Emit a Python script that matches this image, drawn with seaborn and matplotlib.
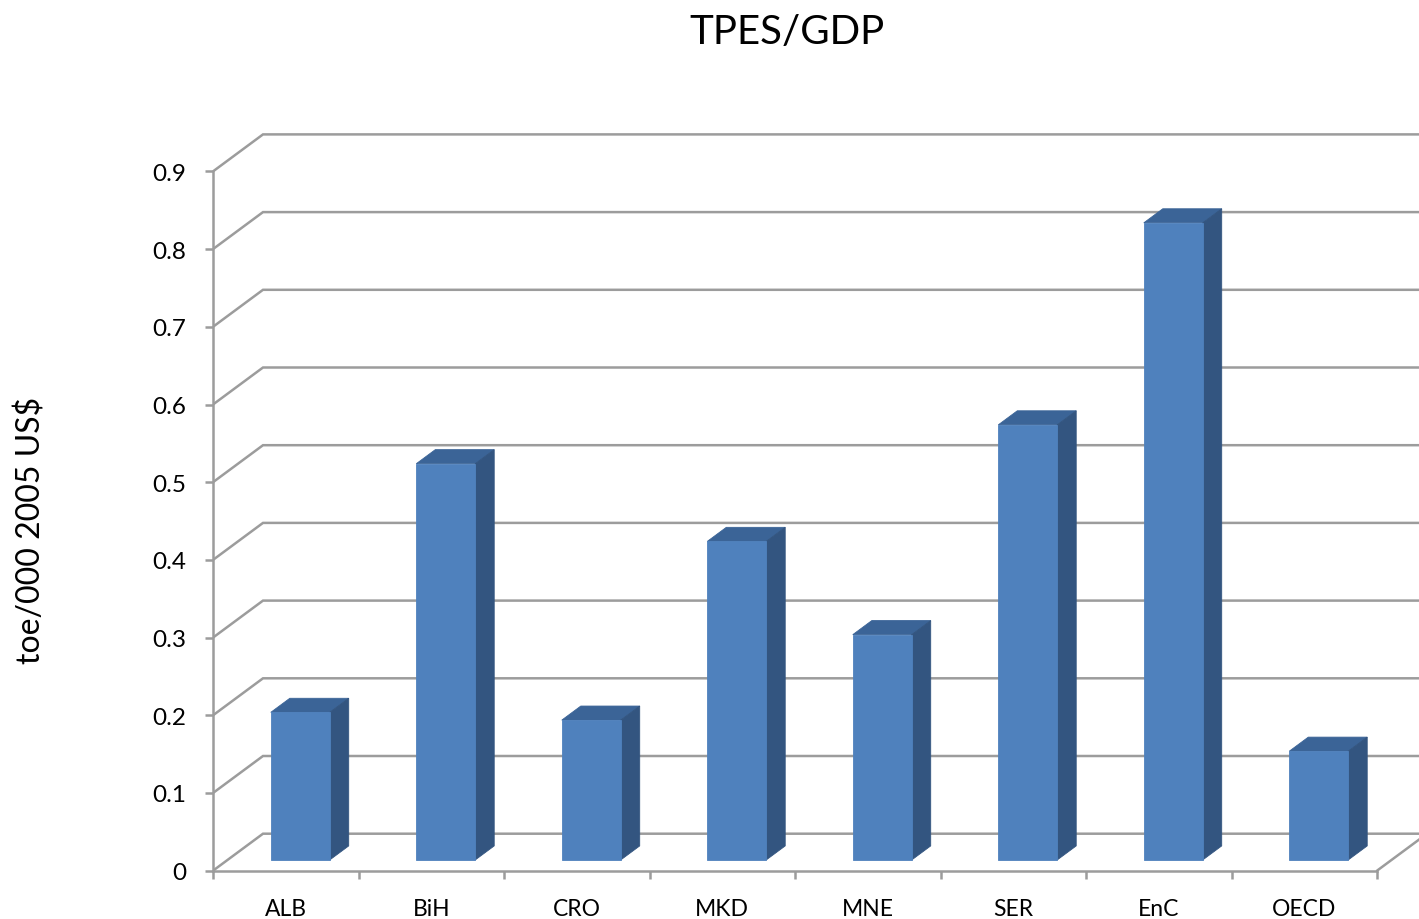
import numpy as np
import pandas as pd
import matplotlib
matplotlib.use("Agg")
import matplotlib.pyplot as plt
import seaborn as sns
from matplotlib.patches import Polygon

# ---------------- data ----------------
categories = ["ALB", "BiH", "CRO", "MKD", "MNE", "SER", "EnC", "OECD"]
values = [0.19, 0.51, 0.18, 0.41, 0.29, 0.56, 0.82, 0.14]
y_ticks = [0, 0.1, 0.2, 0.3, 0.4, 0.5, 0.6, 0.7, 0.8, 0.9]
y_tick_labels = ["0", "0.1", "0.2", "0.3", "0.4", "0.5", "0.6", "0.7", "0.8", "0.9"]
title = "TPES/GDP"
y_label = "toe/000 2005 US$"

# ---------------- style ----------------
FRONT = "#4F81BD"
SIDE = "#335580"
TOP = "#3B6497"
GRID = "#9C9C9C"
GLW = 1.8

sns.set_theme(style="white")
plt.rcParams['font.family'] = ['Lato', 'DejaVu Sans']

W, H = 1419, 920
fig = plt.figure(figsize=(W / 100, H / 100), dpi=100)
cat_px = 145.5
unit_px = 777.0
ax = fig.add_axes([213 / W, 48.3 / H, (W - 213) / W, unit_px / H])

df = pd.DataFrame({"cat": categories, "val": values})
sns.barplot(data=df, x="cat", y="val", color=FRONT, saturation=1, width=0.405,
            ax=ax, zorder=3, linewidth=0)

xmax = -0.5 + (W - 213) / cat_px
ax.set_xlim(-0.5, xmax)
ax.set_ylim(0, unit_px / unit_px)

# depth offsets (full depth) in data units
DX = 50 / cat_px
DY = 37 / unit_px
d_front = 0.29
d_bar = 0.38

for p in list(ax.patches):
    x0 = p.get_x() + d_front * DX
    y0 = d_front * DY
    w = p.get_width()
    h = p.get_height()
    p.set_x(x0)
    p.set_y(y0)
    p.set_edgecolor(FRONT)
    p.set_linewidth(0.6)
    bx, by = d_bar * DX, d_bar * DY
    top = Polygon([(x0, y0 + h), (x0 + w, y0 + h), (x0 + w + bx, y0 + h + by), (x0 + bx, y0 + h + by)],
                  closed=True, facecolor=TOP, edgecolor=TOP, linewidth=0.6, zorder=2.9)
    side = Polygon([(x0 + w, y0), (x0 + w + bx, y0 + by), (x0 + w + bx, y0 + h + by), (x0 + w, y0 + h)],
                   closed=True, facecolor=SIDE, edgecolor=SIDE, linewidth=0.6, zorder=2.9)
    ax.add_patch(top)
    ax.add_patch(side)

# walls / gridlines
n = len(categories)
for v in y_ticks:
    ax.plot([-0.5, -0.5 + DX, xmax + 1], [v, v + DY, v + DY], color=GRID, lw=GLW,
            zorder=1, solid_joinstyle="miter", solid_capstyle="butt")
ax.plot([n - 0.5, n - 0.5 + DX], [0, DY], color=GRID, lw=GLW, zorder=1)

# spines
for s in ["top", "right"]:
    ax.spines[s].set_visible(False)
for s in ["left", "bottom"]:
    ax.spines[s].set_color(GRID)
    ax.spines[s].set_linewidth(GLW)
ax.spines["left"].set_bounds(0, y_ticks[-1])
ax.spines["bottom"].set_bounds(-0.5, n - 0.5)

ax.set_yticks(y_ticks, y_tick_labels)
ax.set_xticks(range(n), categories)
ax.set_xticks(np.arange(-0.5, n, 1.0), minor=True)
ax.tick_params(axis="y", which="major", left=True, length=6, width=GLW, color=GRID,
               pad=13, labelsize=17.5, labelcolor="black")
ax.tick_params(axis="x", which="major", bottom=True, length=0, pad=20,
               labelsize=16.5, labelcolor="black")
ax.tick_params(axis="x", which="minor", bottom=True, length=6, width=GLW, color=GRID)
ax.set_xlabel("")
ax.set_ylabel("")
ax.grid(False)
ax.patch.set_alpha(0)

fig.text(787 / W, 1 - 33 / H, title, ha="center", va="center", fontsize=29, color="black")
fig.text(31 / W, 1 - 530 / H, y_label, ha="center", va="center", rotation=90,
         fontsize=23, color="black")

fig.savefig("out.png", dpi=100, facecolor="white")
